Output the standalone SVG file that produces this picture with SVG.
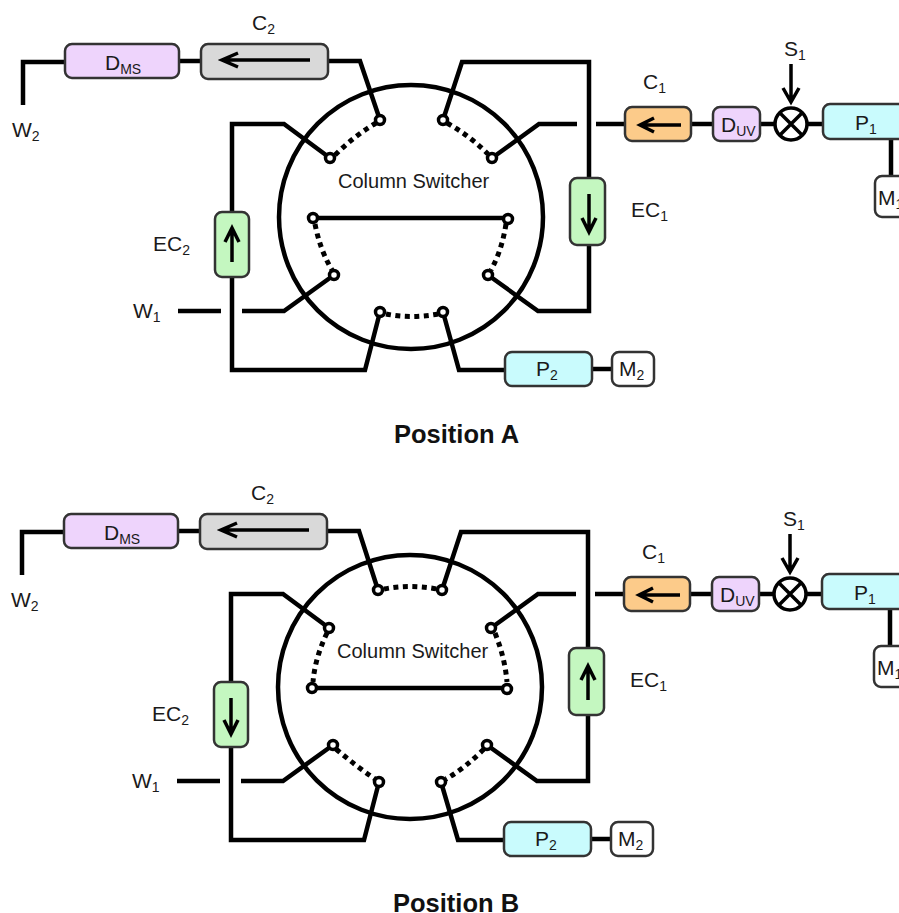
<svg xmlns="http://www.w3.org/2000/svg" width="899" height="913" viewBox="0 0 899 913">
<style>
text{font-family:"Liberation Sans",Arial,sans-serif;font-size:21px;fill:#1a1a1a}
.s{font-size:14px}
.sw{font-size:20px}
.t{font-weight:bold;font-size:25.5px;fill:#111}
.w{fill:none;stroke:#000;stroke-width:4.5;stroke-linejoin:miter}
.d{fill:none;stroke:#000;stroke-width:5;stroke-dasharray:5 4.5}
.c{fill:none;stroke:#000;stroke-width:4.5}
.a{fill:none;stroke:#000;stroke-width:3.5}
.p{fill:#fff;stroke:#000;stroke-width:3.5}
.n{stroke:#333;stroke-width:2.5}
.pur{fill:#eed4fc}.gry{fill:#d9d9d9}.org{fill:#fccb8a}.cy{fill:#c9fbfd}.grn{fill:#c4f7c0}.wh{fill:#fff}
</style>
<g id="connectors-a">
<circle class="c" cx="411" cy="217" r="132"/>
<path class="w" d="M23 105V62H65M179 61H201M328 61H360L380 120"/>
<path class="w" d="M330 158L284 124H232V212M232 277V370H365L380 312"/>
<path class="w" d="M178 311H221M242 311H284L334 275"/>
<path class="w" d="M313 218H508"/>
<path class="w" d="M488 275L538 311H589V245M589 177V62H462L443 120"/>
<path class="w" d="M492 158L539 124H577M596 124H625M691 124H713M760 124H775M807 124H823M891 139V176"/>
<path class="w" d="M443 312L459 370H505M592 369H612"/>
<path class="d" d="M335 155Q354 136 376 123"/>
<path class="d" d="M447 123Q470 136 488 154"/>
<path class="d" d="M315 224Q320 250 332 270"/>
<path class="d" d="M506 224Q502 250 491 270"/>
<path class="d" d="M386 314Q410 319 438 314"/>
</g>
<g id="ports-a">
<circle class="p" cx="380" cy="120" r="4.5"/><circle class="p" cx="443" cy="120" r="4.5"/>
<circle class="p" cx="330" cy="158" r="4.5"/><circle class="p" cx="492" cy="158" r="4.5"/>
<circle class="p" cx="313" cy="218" r="4.5"/><circle class="p" cx="508" cy="219" r="4.5"/>
<circle class="p" cx="334" cy="275" r="4.5"/><circle class="p" cx="488" cy="275" r="4.5"/>
<circle class="p" cx="380" cy="312" r="4.5"/><circle class="p" cx="443" cy="312" r="4.5"/>
</g>
<g id="dms-a"><rect class="n pur" x="65" y="44" width="114" height="34" rx="7"/><text x="105" y="70">D<tspan class="s" dy="4">MS</tspan></text></g>
<g id="c2-a"><rect class="n gry" x="201" y="44" width="127" height="35" rx="7"/><text x="252" y="30">C<tspan class="s" dy="4">2</tspan></text></g>
<g id="w2-a"><text x="12" y="137">W<tspan class="s" dy="4">2</tspan></text></g>
<g id="w1-a"><text x="133" y="318">W<tspan class="s" dy="4">1</tspan></text></g>
<g id="ec2-a"><rect class="n grn" x="215" y="212" width="34" height="65" rx="7"/><text x="153" y="251">EC<tspan class="s" dy="4">2</tspan></text></g>
<g id="ec1-a"><rect class="n grn" x="570" y="178" width="35" height="67" rx="7"/><text x="631" y="217">EC<tspan class="s" dy="4">1</tspan></text></g>
<g id="c1-a"><rect class="n org" x="625" y="107" width="66" height="34" rx="7"/><text x="643" y="89">C<tspan class="s" dy="4">1</tspan></text></g>
<g id="duv-a"><rect class="n pur" x="713" y="107" width="47" height="34" rx="7"/><text x="721" y="132">D<tspan class="s" dy="4">UV</tspan></text></g>
<g id="mix-a"><circle class="a" cx="791" cy="124" r="16"/><path class="a" d="M780 113L802 135M802 113L780 135"/><text x="784" y="56">S<tspan class="s" dy="4">1</tspan></text></g>
<g id="p1-a"><rect class="n cy" x="823" y="104" width="90" height="35" rx="7"/><text x="855" y="130">P<tspan class="s" dy="4">1</tspan></text></g>
<g id="m1-a"><rect class="n wh" x="875" y="176" width="40" height="41" rx="7"/><text x="878" y="205">M<tspan class="s" dy="4">1</tspan></text></g>
<g id="p2-a"><rect class="n cy" x="505" y="352" width="87" height="34" rx="7"/><text x="536" y="376">P<tspan class="s" dy="4">2</tspan></text></g>
<g id="m2-a"><rect class="n wh" x="612" y="352" width="42" height="34" rx="7"/><text x="619" y="376">M<tspan class="s" dy="4">2</tspan></text></g>
<g id="switch-a"><text class="sw" x="338" y="188">Column Switcher</text></g>
<text class="t" x="394" y="443">Position A</text>
<g id="arrows-a">
<path class="a" d="M791 64V100M783 88L791 102L799 88"/>
<path class="a" d="M310 60H222M238 53L222 60L238 67"/>
<path class="a" d="M681 125H640M654 118L640 125L654 132"/>
<path class="a" d="M589 194V232M582 218L589 232L596 218"/>
<path class="a" d="M232 262V228M225 242L232 228L239 242"/>
</g>

<g id="connectors-b">
<circle class="c" cx="410" cy="687" r="132"/>
<path class="w" d="M22 575V532H64M178 531H200M327 531H359L378 590"/>
<path class="w" d="M329 628L283 594H231V682M231 747V840H364L379 782"/>
<path class="w" d="M177 781H220M241 781H283L333 745"/>
<path class="w" d="M312 688H507"/>
<path class="w" d="M487 745L537 781H588V715M588 647V532H461L442 590"/>
<path class="w" d="M491 628L538 594H576M595 594H624M690 594H712M759 594H774M806 594H822M890 609V646"/>
<path class="w" d="M441 782L458 840H504M591 839H611"/>
<path class="d" d="M384 589Q410 584 437 589"/>
<path class="d" d="M327 633Q315 658 313 682"/>
<path class="d" d="M495 633Q505 658 507 682"/>
<path class="d" d="M336 749Q356 766 375 779"/>
<path class="d" d="M484 749Q465 768 446 779"/>
</g>
<g id="ports-b">
<circle class="p" cx="378" cy="590" r="4.5"/><circle class="p" cx="442" cy="590" r="4.5"/>
<circle class="p" cx="329" cy="628" r="4.5"/><circle class="p" cx="491" cy="628" r="4.5"/>
<circle class="p" cx="312" cy="688" r="4.5"/><circle class="p" cx="507" cy="689" r="4.5"/>
<circle class="p" cx="333" cy="745" r="4.5"/><circle class="p" cx="487" cy="745" r="4.5"/>
<circle class="p" cx="379" cy="782" r="4.5"/><circle class="p" cx="441" cy="782" r="4.5"/>
</g>
<g id="dms-b"><rect class="n pur" x="64" y="514" width="114" height="34" rx="7"/><text x="104" y="540">D<tspan class="s" dy="4">MS</tspan></text></g>
<g id="c2-b"><rect class="n gry" x="200" y="514" width="127" height="35" rx="7"/><text x="251" y="500">C<tspan class="s" dy="4">2</tspan></text></g>
<g id="w2-b"><text x="11" y="607">W<tspan class="s" dy="4">2</tspan></text></g>
<g id="w1-b"><text x="132" y="788">W<tspan class="s" dy="4">1</tspan></text></g>
<g id="ec2-b"><rect class="n grn" x="214" y="682" width="34" height="65" rx="7"/><text x="152" y="721">EC<tspan class="s" dy="4">2</tspan></text></g>
<g id="ec1-b"><rect class="n grn" x="569" y="648" width="35" height="67" rx="7"/><text x="630" y="687">EC<tspan class="s" dy="4">1</tspan></text></g>
<g id="c1-b"><rect class="n org" x="624" y="577" width="66" height="34" rx="7"/><text x="642" y="559">C<tspan class="s" dy="4">1</tspan></text></g>
<g id="duv-b"><rect class="n pur" x="712" y="577" width="47" height="34" rx="7"/><text x="720" y="602">D<tspan class="s" dy="4">UV</tspan></text></g>
<g id="mix-b"><circle class="a" cx="790" cy="594" r="16"/><path class="a" d="M779 583L801 605M801 583L779 605"/><text x="783" y="526">S<tspan class="s" dy="4">1</tspan></text></g>
<g id="p1-b"><rect class="n cy" x="822" y="574" width="90" height="35" rx="7"/><text x="854" y="600">P<tspan class="s" dy="4">1</tspan></text></g>
<g id="m1-b"><rect class="n wh" x="874" y="646" width="40" height="41" rx="7"/><text x="877" y="675">M<tspan class="s" dy="4">1</tspan></text></g>
<g id="p2-b"><rect class="n cy" x="504" y="822" width="87" height="34" rx="7"/><text x="535" y="846">P<tspan class="s" dy="4">2</tspan></text></g>
<g id="m2-b"><rect class="n wh" x="611" y="822" width="42" height="34" rx="7"/><text x="618" y="846">M<tspan class="s" dy="4">2</tspan></text></g>
<g id="switch-b"><text class="sw" x="337" y="658">Column Switcher</text></g>
<text class="t" x="393" y="911.5">Position B</text>
<g id="arrows-b">
<path class="a" d="M790 534V570M782 558L790 572L798 558"/>
<path class="a" d="M309 530H221M237 523L221 530L237 537"/>
<path class="a" d="M680 595H639M653 588L639 595L653 602"/>
<path class="a" d="M588 700V666M581 680L588 666L595 680"/>
<path class="a" d="M231 698V734M224 720L231 734L238 720"/>
</g>
</svg>
